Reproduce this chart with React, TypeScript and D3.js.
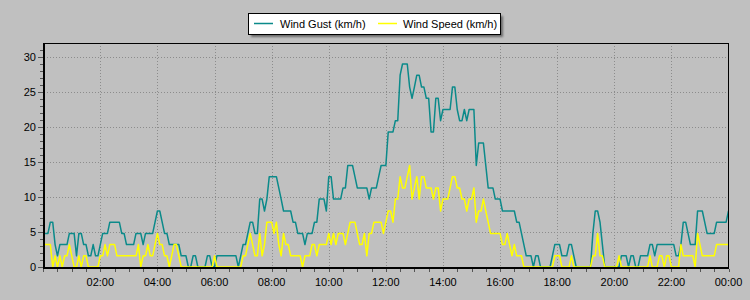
import React from 'react';
import * as d3 from 'd3';

// 5-minute samples from 00:00 to 24:00 (289 values each), km/h
const gustKmh: number[] = [
  4.8,4.8,4.8,6.4,6.4,3.2,1.6,3.2,3.2,3.2,3.2,4.8,
  4.8,4.8,1.6,4.8,4.8,3.2,3.2,1.6,1.6,3.2,1.6,1.6,
  3.2,4.8,4.8,4.8,6.4,6.4,6.4,6.4,6.4,4.8,4.8,3.2,
  3.2,3.2,3.2,4.8,4.8,4.8,3.2,4.8,4.8,4.8,4.8,6.4,
  8,8,6.4,4.8,4.8,3.2,3.2,3.2,3.2,3.2,1.6,1.6,
  1.6,0,0,1.6,1.6,0,0,0,0,1.6,1.6,0,
  0,1.6,1.6,1.6,1.6,1.6,1.6,1.6,1.6,1.6,0,1.6,
  3.2,3.2,4.8,6.4,6.4,4.8,4.8,9.7,9.7,8,9.7,12.9,
  12.9,12.9,12.9,11.3,9.7,8,8,8,8,6.4,6.4,4.8,
  4.8,4.8,3.2,4.8,4.8,4.8,6.4,6.4,9.7,9.7,9.7,8,
  12.9,12.9,9.7,9.7,9.7,9.7,11.3,11.3,14.5,14.5,14.5,12.9,
  11.3,11.3,11.3,11.3,11.3,9.7,11.3,11.3,11.3,12.9,14.5,14.5,
  14.5,19.3,19.3,19.3,20.9,20.9,27.4,29,29,29,25.7,24.1,
  25.7,27.4,27.4,25.7,25.7,24.1,24.1,19.3,19.3,24.1,24.1,20.9,
  22.5,22.5,22.5,22.5,25.7,25.7,22.5,20.9,20.9,22.5,20.9,22.5,
  22.5,22.5,14.5,17.7,17.7,17.7,14.5,11.3,11.3,11.3,9.7,9.7,
  9.7,8,8,8,8,8,8,6.4,6.4,4.8,3.2,1.6,
  1.6,1.6,0,1.6,1.6,0,0,0,0,0,1.6,3.2,
  3.2,3.2,1.6,1.6,1.6,3.2,3.2,1.6,0,0,0,0,
  0,0,0,4.8,8,8,6.4,3.2,0,0,0,0,
  0,0,0,1.6,1.6,1.6,0,1.6,1.6,0,0,1.6,
  1.6,1.6,1.6,3.2,3.2,1.6,3.2,3.2,3.2,3.2,3.2,3.2,
  3.2,3.2,1.6,1.6,3.2,6.4,6.4,4.8,3.2,3.2,3.2,8,
  8,8,6.4,4.8,4.8,4.8,4.8,6.4,6.4,6.4,6.4,6.4,
  8,
];

const speedKmh: number[] = [
  3.2,3.2,3.2,3.2,0,1.6,0,1.6,0,1.6,1.6,3.2,
  1.6,0,0,1.6,0,1.6,1.6,0,0,0,0,0,
  1.6,1.6,3.2,1.6,3.2,3.2,3.2,1.6,1.6,1.6,1.6,1.6,
  1.6,1.6,1.6,1.6,3.2,0,1.6,1.6,3.2,1.6,1.6,3.2,
  4.8,3.2,3.2,1.6,1.6,0,1.6,3.2,3.2,1.6,0,0,
  0,0,0,0,0,0,0,0,0,0,0,0,
  1.6,0,0,0,0,0,0,0,0,0,0,0,
  1.6,1.6,3.2,4.8,3.2,1.6,1.6,4.8,1.6,3.2,6.4,6.4,
  6.4,4.8,6.4,3.2,1.6,4.8,3.2,3.2,1.6,1.6,1.6,1.6,
  1.6,0,1.6,1.6,1.6,3.2,3.2,1.6,3.2,3.2,3.2,3.2,
  4.8,3.2,4.8,3.2,4.8,4.8,4.8,3.2,4.8,6.4,6.4,6.4,
  4.8,3.2,3.2,4.8,1.6,4.8,4.8,6.4,6.4,6.4,6.4,4.8,
  6.4,8,8,6.4,9.7,9.7,12.9,11.3,11.3,12.9,14.5,9.7,
  11.3,12.9,9.7,12.9,12.9,11.3,11.3,11.3,9.7,11.3,11.3,8,
  9.7,9.7,9.7,11.3,12.9,12.9,11.3,11.3,9.7,9.7,8,9.7,
  9.7,11.3,6.4,8,8,9.7,8,6.4,4.8,4.8,4.8,4.8,
  4.8,3.2,3.2,4.8,3.2,1.6,3.2,1.6,1.6,1.6,0,0,
  0,0,0,0,0,0,0,0,0,0,0,1.6,
  1.6,1.6,0,0,0,0,1.6,0,0,0,0,0,
  0,0,0,1.6,1.6,4.8,1.6,1.6,0,0,0,0,
  0,0,1.6,0,0,0,0,0,0,0,0,0,
  0,0,0,1.6,0,0,0,1.6,1.6,0,1.6,1.6,
  0,0,0,0,3.2,1.6,1.6,1.6,1.6,1.6,0,4.8,
  3.2,1.6,1.6,1.6,1.6,1.6,1.6,3.2,3.2,3.2,3.2,3.2,
  3.2,
];

const STEP_MINUTES = 5;
const yTicks = [0, 5, 10, 15, 20, 25, 30];
const xTickHours = [2, 4, 6, 8, 10, 12, 14, 16, 18, 20, 22, 24];
const xTickLabels = ['02:00', '04:00', '06:00', '08:00', '10:00', '12:00', '14:00', '16:00', '18:00', '20:00', '22:00', '00:00'];
const seriesNames = ['Wind Gust (km/h)', 'Wind Speed (km/h)'];
const seriesColors = ['#0b8a8a', '#ffff00'];

const FONT = "'Liberation Sans', Arial, Helvetica, sans-serif";

export default function App() {
  const t0 = new Date(2024, 0, 1, 0, 0, 0);
  const t1 = new Date(2024, 0, 2, 0, 0, 0);
  const left = 44, right = 728.5, top = 43, bottom = 267;
  const x = d3.scaleTime().domain([t0, t1]).range([43.2, right]);
  const y = d3.scaleLinear().domain([0, 32]).range([bottom, top]);
  const timeAt = (i: number) => d3.timeMinute.offset(t0, i * STEP_MINUTES);
  const line = d3.line<number>().x((_, i) => x(timeAt(i))).y((d) => y(d));

  const minorX = d3.timeMinute.every(30)!.range(t0, d3.timeMinute.offset(t1, 1));
  const majorX = xTickHours.map((h) => d3.timeHour.offset(t0, h));
  const minorY = d3.range(0, 32, 1);

  const series = [gustKmh, speedKmh];

  return (
    <svg width={750} height={300} style={{ position: 'absolute', left: 0, top: 0 }} fontFamily={FONT}>
      <defs>
        <filter id="shadow" x="-10%" y="-30%" width="120%" height="160%">
          <feGaussianBlur stdDeviation="1.2" />
        </filter>
        <clipPath id="plot">
          <rect x={left} y={top} width={right - left} height={bottom - top + 2} />
        </clipPath>
      </defs>
      <rect x={0} y={0} width={750} height={300} fill="#c0c0c0" />

      {/* gridlines */}
      {yTicks.filter((v) => v > 0).map((v) => (
        <line key={'gy' + v} x1={left} x2={right} y1={Math.round(y(v)) + 0.5} y2={Math.round(y(v)) + 0.5}
          stroke="#8c8c8c" strokeDasharray="1 2" />
      ))}
      {majorX.slice(0, -1).map((d, i) => (
        <line key={'gx' + i} x1={Math.round(x(d)) + 0.5} x2={Math.round(x(d)) + 0.5} y1={top} y2={bottom}
          stroke="#8c8c8c" strokeDasharray="1 2" />
      ))}

      {/* data */}
      <g clipPath="url(#plot)">
        {series.map((s, k) => (
          <path key={'s' + k} d={line(s) || ''} fill="none" stroke={seriesColors[k]} strokeWidth={1.5}
            strokeLinejoin="round" />
        ))}
      </g>

      {/* frame & axes */}
      <line x1={left} x2={right} y1={top + 0.5} y2={top + 0.5} stroke="#000" />
      <line x1={right} x2={right} y1={top} y2={bottom + 2} stroke="#000" />
      <line x1={left} x2={left} y1={top} y2={bottom + 2} stroke="#000" strokeWidth={2} />
      <line x1={left - 1} x2={right} y1={bottom + 1} y2={bottom + 1} stroke="#000" strokeWidth={2} />

      {/* y ticks */}
      {minorY.map((v) => {
        const major = v % 5 === 0;
        const yy = Math.round(y(v)) + 0.5;
        return <line key={'ty' + v} x1={major ? left - 6 : left - 4} x2={left - 1} y1={yy} y2={yy} stroke="#555" />;
      })}
      {yTicks.map((v) => (
        <text key={'ly' + v} x={36} y={y(v)} dy="0.35em" textAnchor="end" fontSize={11} fill="#000">{v}</text>
      ))}

      {/* x ticks */}
      {minorX.map((d, i) => {
        const xx = Math.round(x(d)) + 0.5;
        return <line key={'tx' + i} x1={xx} x2={xx} y1={bottom + 2} y2={bottom + 5} stroke="#555" />;
      })}
      {majorX.map((d, i) => (
        <text key={'lx' + i} x={x(d)} y={286} textAnchor="middle" fontSize={11} fill="#000">{xTickLabels[i]}</text>
      ))}

      {/* legend */}
      <rect x={251} y={16} width={252} height={21} fill="#555" filter="url(#shadow)" opacity={0.8} />
      <rect x={248.5} y={13.5} width={252} height={21} fill="#fff" stroke="#000" />
      <line x1={254} x2={273} y1={23.5} y2={23.5} stroke={seriesColors[0]} strokeWidth={1.5} />
      <text x={280} y={27.5} fontSize={11} fill="#000">{seriesNames[0]}</text>
      <line x1={378} x2={397} y1={23.5} y2={23.5} stroke={seriesColors[1]} strokeWidth={1.5} />
      <text x={403} y={27.5} fontSize={11} fill="#000">{seriesNames[1]}</text>
    </svg>
  );
}
